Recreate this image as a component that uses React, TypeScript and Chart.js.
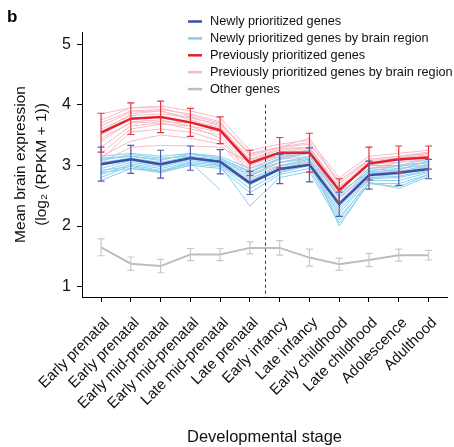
import React, { useEffect, useRef } from "react";
import { Chart, registerables } from "chart.js";

Chart.register(...registerables);

const stages = [
  "Early prenatal",
  "Early prenatal",
  "Early mid-prenatal",
  "Early mid-prenatal",
  "Late mid-prenatal",
  "Late prenatal",
  "Early infancy",
  "Late infancy",
  "Early childhood",
  "Late childhood",
  "Adolescence",
  "Adulthood",
];
const yTicks = [1, 2, 3, 4, 5];

const newlyMean = [3.02, 3.1, 3.02, 3.12, 3.06, 2.71, 2.94, 3.01, 2.36, 2.84, 2.88, 2.94];
const newlyErr = [0.28, 0.23, 0.23, 0.2, 0.2, 0.19, 0.24, 0.28, 0.2, 0.23, 0.21, 0.16];
const prevMean = [3.54, 3.77, 3.8, 3.71, 3.58, 3.04, 3.21, 3.21, 2.59, 3.03, 3.1, 3.13];
const prevErr = [0.32, 0.26, 0.26, 0.23, 0.22, 0.21, 0.25, 0.32, 0.19, 0.27, 0.22, 0.19];
const otherMean = [1.65, 1.38, 1.34, 1.53, 1.53, 1.64, 1.64, 1.48, 1.37, 1.44, 1.52, 1.52];
const otherErr = [0.14, 0.11, 0.11, 0.1, 0.1, 0.1, 0.12, 0.14, 0.1, 0.11, 0.1, 0.08];

// previously prioritized genes, by brain region
const prevRegion1 = [3.85, 3.95, 3.98, 3.9, 3.78, 3.25, 3.35, 3.42, 2.8, 3.15, 3.2, 3.25];
const prevRegion2 = [3.7, 3.9, 3.92, 3.85, 3.72, 3.15, 3.3, 3.38, 2.7, 3.1, 3.15, 3.2];
const prevRegion3 = [3.6, 3.82, 3.85, 3.8, 3.65, 3.1, 3.25, 3.3, 2.65, 3.05, 3.12, 3.18];
const prevRegion4 = [3.5, 3.78, 3.8, 3.72, 3.6, 3.05, 3.2, 3.25, 2.6, 3.0, 3.1, 3.15];
const prevRegion5 = [3.4, 3.72, 3.75, 3.65, 3.55, 3.0, 3.18, 3.2, 2.55, 3.05, 3.08, 3.12];
const prevRegion6 = [3.3, 3.65, 3.7, 3.6, 3.5, 2.95, 3.1, 3.15, 2.5, 2.95, 3.05, 3.1];
const prevRegion7 = [3.2, 3.6, 3.68, 3.65, 3.45, 2.9, 3.12, 3.22, 2.45, 2.9, 3.0, 3.05];
const prevRegion8 = [3.1, 3.55, 3.6, 3.55, 3.4, 2.9, 3.05, 3.1, 2.48, 2.85, 2.95, 3.0];
const prevRegion9 = [3.15, 3.4, 3.5, 3.45, 3.35, 2.85, 3.0, 3.05, 2.4, 2.75, 2.9, 3.0];
const prevRegion10 = [3.75, 3.95, 3.95, 3.82, 3.7, 3.2, 3.3, 3.35, 2.75, 3.1, 3.15, 3.22];
const prevRegion11 = [3.55, 3.85, 3.9, 3.75, 3.62, 3.1, 3.28, 3.3, 2.6, 3.0, 3.1, 3.15];
const prevRegion12 = [3.05, 3.3, 3.33, 3.32, 3.3, 3.05, 3.15, 3.2, 2.65, 2.95, 3.0, 3.05];
const prevRegion13 = [3.45, 3.7, 3.72, 3.7, 3.58, 3.08, 3.22, 3.28, 2.58, 3.02, 3.05, 3.1];
const prevRegion14 = [3.65, 3.88, 3.9, 3.78, 3.68, 3.18, 3.3, 3.45, 2.7, 3.08, 3.12, 3.2];

// newly prioritized genes, by brain region
const newRegion1 = [3.15, 3.2, 3.15, 3.2, 3.15, 2.95, 3.15, 3.25, 2.6, 3.0, 3.0, 3.1];
const newRegion2 = [3.1, 3.15, 3.1, 3.18, 3.12, 2.88, 3.1, 3.2, 2.5, 2.95, 2.98, 3.05];
const newRegion3 = [3.05, 3.12, 3.05, 3.15, 3.1, 2.82, 3.05, 3.15, 2.45, 2.92, 2.95, 3.02];
const newRegion4 = [3.0, 3.1, 3.02, 3.12, 3.08, 2.78, 3.0, 3.1, 2.4, 2.88, 2.9, 3.0];
const newRegion5 = [2.95, 3.08, 3.0, 3.1, 3.05, 2.75, 2.98, 3.08, 2.35, 2.85, 2.88, 2.98];
const newRegion6 = [2.9, 3.05, 2.98, 3.08, 3.02, 2.7, 2.95, 3.05, 2.3, 2.82, 2.85, 2.95];
const newRegion7 = [2.85, 3.02, 2.95, 3.05, 3.0, 2.68, 2.92, 3.02, 2.25, 2.8, 2.82, 2.92];
const newRegion8 = [2.8, 3.0, 2.92, 3.02, 2.98, 2.62, 2.88, 3.0, 2.2, 2.78, 2.8, 2.9];
const newRegion9 = [2.75, 2.95, 2.88, 3.0, 2.95, 2.55, 2.85, 2.95, 2.1, 2.75, 2.75, 2.88];
const newRegion10 = [3.08, 3.18, 3.12, 3.15, 3.0, 2.33, 2.8, 2.9, 2.05, 2.7, 2.65, 2.85];
const newRegion11 = [2.92, 2.98, 2.9, 3.0, 3.1, 2.85, 3.05, 3.12, 2.0, 2.72, 2.62, 2.82];
const newRegion12 = [3.12, 3.15, 3.08, 3.2, 3.12, 2.9, 3.12, 3.22, 2.55, 2.9, 2.92, 3.08];
const newRegion13 = [2.88, 2.95, 2.9, 3.05, 2.6, null, 2.9, 3.0, 2.15, 2.7, 2.7, 2.85];

const prevRegions = [
  prevRegion1, prevRegion2, prevRegion3, prevRegion4, prevRegion5, prevRegion6, prevRegion7,
  prevRegion8, prevRegion9, prevRegion10, prevRegion11, prevRegion12, prevRegion13, prevRegion14,
];
const newRegions = [
  newRegion1, newRegion2, newRegion3, newRegion4, newRegion5, newRegion6, newRegion7,
  newRegion8, newRegion9, newRegion10, newRegion11, newRegion12, newRegion13,
];

const dividerX = 5.5;
const dividerTop = 4.0;

const legendItems = [
  { label: "Newly prioritized genes", color: "#3b4fa3", width: 2.5 },
  { label: "Newly prioritized genes by brain region", color: "#86cdea", width: 2.5 },
  { label: "Previously prioritized genes", color: "#e3222b", width: 2.5 },
  { label: "Previously prioritized genes by brain region", color: "#f6b9c5", width: 2.5 },
  { label: "Other genes", color: "#bdbdbd", width: 2.5 },
];

const FONT = "'Liberation Sans', Arial, Helvetica, sans-serif";

const toPoints = (arr: (number | null)[]) => arr.map((v, i) => ({ x: i, y: v }));

const errorGroups = [
  { mean: otherMean, err: otherErr, color: "#c9c9c9" },
  { mean: prevMean, err: prevErr, color: "#e6343c" },
  { mean: newlyMean, err: newlyErr, color: "#4d60ab" },
];

const overlayPlugin = {
  id: "overlay",
  afterDatasetsDraw(chart: any) {
    const { ctx, scales, chartArea } = chart;
    const x = scales.x;
    const y = scales.y;
    // divider
    ctx.save();
    ctx.strokeStyle = "#333";
    ctx.lineWidth = 1;
    ctx.setLineDash([3, 3]);
    const dx = Math.round(x.getPixelForValue(dividerX)) + 0.5;
    ctx.beginPath();
    ctx.moveTo(dx, y.getPixelForValue(dividerTop));
    ctx.lineTo(dx, chartArea.bottom);
    ctx.stroke();
    ctx.restore();
    // error bars
    errorGroups.forEach((g) => {
      ctx.save();
      ctx.strokeStyle = g.color;
      ctx.lineWidth = 1.2;
      g.mean.forEach((m, i) => {
        const px = x.getPixelForValue(i);
        const top = y.getPixelForValue(m + g.err[i]);
        const bot = y.getPixelForValue(m - g.err[i]);
        ctx.beginPath();
        ctx.moveTo(px, top);
        ctx.lineTo(px, bot);
        ctx.moveTo(px - 3.5, top);
        ctx.lineTo(px + 3.5, top);
        ctx.moveTo(px - 3.5, bot);
        ctx.lineTo(px + 3.5, bot);
        ctx.stroke();
      });
      ctx.restore();
    });
  },
  afterDraw(chart: any) {
    const { ctx } = chart;
    ctx.save();
    // panel letter
    ctx.fillStyle = "#000";
    ctx.font = `bold 17px ${FONT}`;
    ctx.textBaseline = "alphabetic";
    ctx.textAlign = "left";
    ctx.fillText("b", 7, 22);
    // legend
    ctx.font = `12.7px ${FONT}`;
    ctx.textBaseline = "middle";
    legendItems.forEach((it, i) => {
      const yy = 21.5 + i * 16.9;
      ctx.strokeStyle = it.color;
      ctx.lineWidth = it.width;
      ctx.beginPath();
      ctx.moveTo(188, yy);
      ctx.lineTo(202, yy);
      ctx.stroke();
      ctx.fillStyle = "#111";
      ctx.fillText(it.label, 210, yy);
    });
    ctx.restore();
  },
};

export default function App() {
  const ref = useRef<HTMLCanvasElement | null>(null);
  useEffect(() => {
    if (!ref.current) return;
    const datasets: any[] = [];
    prevRegions.forEach((r) =>
      datasets.push({
        data: toPoints(r),
        borderColor: "#f7bcc8",
        borderWidth: 1,
        pointRadius: 0,
        order: 3,
      })
    );
    newRegions.forEach((r) =>
      datasets.push({
        data: toPoints(r),
        borderColor: "#8ad0ec",
        borderWidth: 1,
        pointRadius: 0,
        order: 2,
      })
    );
    datasets.push({
      data: toPoints(otherMean),
      borderColor: "#bdbdbd",
      borderWidth: 2,
      pointRadius: 0,
      order: 1,
    });
    datasets.push({
      data: toPoints(prevMean),
      borderColor: "#e3222b",
      borderWidth: 2.5,
      pointRadius: 0,
      order: 0,
    });
    datasets.push({
      data: toPoints(newlyMean),
      borderColor: "#3b4fa3",
      borderWidth: 2.5,
      pointRadius: 0,
      order: 0,
    });

    const chart = new Chart(ref.current, {
      type: "line",
      data: { datasets },
      plugins: [overlayPlugin],
      options: {
        animation: false,
        responsive: false,
        devicePixelRatio: 1,
        spanGaps: false,
        layout: { padding: { top: 32, right: 7, left: 0, bottom: 0 } },
        plugins: { legend: { display: false }, tooltip: { enabled: false } },
        scales: {
          x: {
            type: "linear",
            min: -0.64,
            max: 11.62,
            afterBuildTicks: (s: any) => {
              s.ticks = stages.map((_, i) => ({ value: i }));
            },
            afterFit: (s: any) => {
              s.height = 150;
            },
            ticks: {
              callback: (v: any) => stages[Math.round(Number(v))],
              minRotation: 45,
              maxRotation: 45,
              autoSkip: false,
              color: "#111",
              font: { size: 15, family: FONT },
              padding: 12,
              labelOffset: 6,
            },
            grid: { drawOnChartArea: false, drawTicks: true, tickLength: 5, color: "#000", tickWidth: 1 },
            border: { display: true, color: "#000", width: 1 },
            title: {
              display: true,
              text: "Developmental stage",
              color: "#111",
              font: { size: 16.5, family: FONT },
              padding: { top: 0, bottom: 0 },
            },
          },
          y: {
            type: "linear",
            min: 0.83,
            max: 5.2,
            afterBuildTicks: (s: any) => {
              s.ticks = yTicks.map((v) => ({ value: v }));
            },
            afterFit: (s: any) => {
              s.width = 82;
            },
            ticks: {
              color: "#111",
              font: { size: 16, family: FONT },
              padding: 6,
              callback: (v: any) => String(v),
            },
            grid: { drawOnChartArea: false, drawTicks: true, tickLength: 5, color: "#000", tickWidth: 1 },
            border: { display: true, color: "#000", width: 1 },
            title: {
              display: true,
              text: ["Mean brain expression", "(log\u2082 (RPKM + 1))"],
              color: "#111",
              font: { size: 15.5, family: FONT, lineHeight: 1.3 },
              padding: { top: 11, bottom: 0 },
            },
          },
        },
      },
    } as any);
    return () => chart.destroy();
  }, []);

  return (
    <div style={{ position: "absolute", left: 0, top: 0, width: 454, height: 447 }}>
      <canvas ref={ref} width={454} height={447} style={{ display: "block", width: 454, height: 447 }} />
    </div>
  );
}
